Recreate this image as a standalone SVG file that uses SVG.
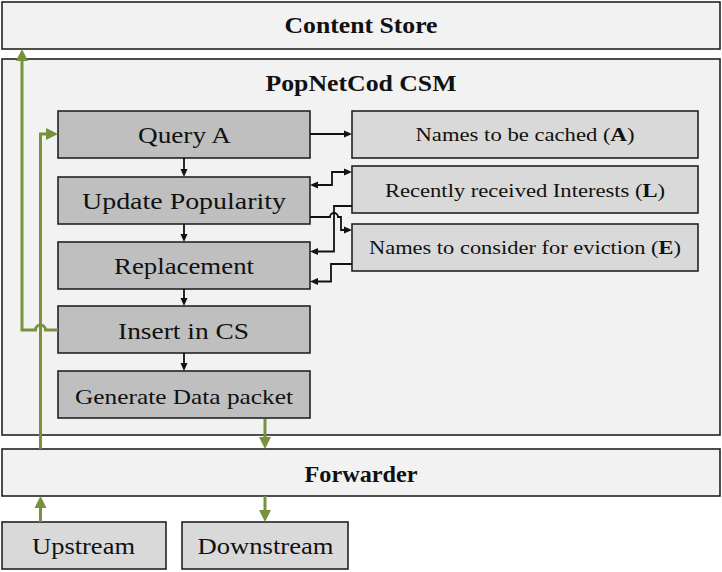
<svg xmlns="http://www.w3.org/2000/svg" width="722" height="572" viewBox="0 0 722 572">
<style>
text{font-family:"Liberation Serif","Times New Roman",serif;fill:#111;text-anchor:middle}
.big{fill:#f2f2f2;stroke:#222;stroke-width:1.6}
.step{fill:#bfbfbf;stroke:#222;stroke-width:1.6}
.data{fill:#d9d9d9;stroke:#222;stroke-width:1.6}
.t{font-size:24px;font-weight:bold}
.s{font-size:24px}
.r{font-size:19px}
.g{fill:none;stroke:#76923c;stroke-width:3}
.k{fill:none;stroke:#111;stroke-width:1.8}
</style>
<defs>
<marker id="ga" viewBox="0 0 12 12" refX="6" refY="6" markerWidth="12" markerHeight="12" markerUnits="userSpaceOnUse" orient="auto-start-reverse"><path d="M0,0 L12,6 L0,12 z" fill="#76923c"/></marker>
<marker id="ka" viewBox="0 0 8 8" refX="4" refY="4" markerWidth="8" markerHeight="8" markerUnits="userSpaceOnUse" orient="auto-start-reverse"><path d="M0,0.5 L8,4 L0,7.5 z" fill="#111"/></marker>
</defs>
<g id="content-store"><rect class="big" x="2" y="2" width="718" height="47"/><text class="t" x="361" y="33" textLength="153" lengthAdjust="spacingAndGlyphs">Content Store</text></g>
<g id="csm"><rect class="big" x="2" y="59" width="718" height="376"/><text class="t" x="361" y="90.5" textLength="191" lengthAdjust="spacingAndGlyphs">PopNetCod CSM</text></g>
<g id="forwarder"><rect class="big" x="2" y="449" width="718" height="47"/><text class="t" x="361" y="481.5" textLength="113" lengthAdjust="spacingAndGlyphs">Forwarder</text></g>
<g id="upstream"><rect class="data" x="2" y="522" width="164" height="47"/><text class="s" x="83.5" y="554" textLength="103" lengthAdjust="spacingAndGlyphs">Upstream</text></g>
<g id="downstream"><rect class="data" x="182" y="522" width="166" height="47"/><text class="s" x="265.5" y="554" textLength="136" lengthAdjust="spacingAndGlyphs">Downstream</text></g>
<g id="query-a"><rect class="step" x="58" y="111" width="252" height="47"/><text class="s" x="184.5" y="143" textLength="93" lengthAdjust="spacingAndGlyphs">Query A</text></g>
<g id="update-popularity"><rect class="step" x="58" y="177" width="252" height="47"/><text class="s" x="184" y="209" textLength="204" lengthAdjust="spacingAndGlyphs">Update Popularity</text></g>
<g id="replacement"><rect class="step" x="58" y="242" width="252" height="47"/><text class="s" x="184" y="274" textLength="140" lengthAdjust="spacingAndGlyphs">Replacement</text></g>
<g id="insert-cs"><rect class="step" x="58" y="306" width="252" height="47"/><text class="s" x="183.5" y="338.5" textLength="131" lengthAdjust="spacingAndGlyphs">Insert in CS</text></g>
<g id="generate-data"><rect class="step" x="58" y="371" width="252" height="47"/><text x="184" y="403.5" font-size="21" textLength="218" lengthAdjust="spacingAndGlyphs">Generate Data packet</text></g>
<g id="names-cached"><rect class="data" x="352" y="111" width="346" height="47"/><text class="r" x="525" y="141" textLength="219" lengthAdjust="spacingAndGlyphs">Names to be cached (<tspan font-weight="bold">A</tspan>)</text></g>
<g id="recent-interests"><rect class="data" x="352" y="166" width="346" height="47"/><text class="r" x="525" y="196.5" textLength="280" lengthAdjust="spacingAndGlyphs">Recently received Interests (<tspan font-weight="bold">L</tspan>)</text></g>
<g id="eviction"><rect class="data" x="352" y="224" width="346" height="47"/><text class="r" x="525" y="254" textLength="312" lengthAdjust="spacingAndGlyphs">Names to consider for eviction (<tspan font-weight="bold">E</tspan>)</text></g>
<g id="connectors">
<path class="k" d="M184,158 V173" marker-end="url(#ka)"/>
<path class="k" d="M184,224 V238" marker-end="url(#ka)"/>
<path class="k" d="M184,289 V302" marker-end="url(#ka)"/>
<path class="k" d="M184,353 V367" marker-end="url(#ka)"/>
<path class="k" d="M310,134 H348" marker-end="url(#ka)"/>
<path class="k" d="M314,185 H332 V172 H348" marker-start="url(#ka)" marker-end="url(#ka)"/>
<path class="k" d="M352,206 H334 V251.5 H314" marker-end="url(#ka)"/>
<path class="k" d="M310,217 H330 A4,4 0 0 1 338,217 H341 V230 H348" marker-end="url(#ka)"/>
<path class="k" d="M352,264 H331 V281.5 H314" marker-end="url(#ka)"/>
<path class="g" d="M40.5,449 V134 H52" marker-end="url(#ga)"/>
<path class="g" d="M58,330 H45.5 A5,5 0 0 0 35.5,330 H22 V55" marker-end="url(#ga)"/>
<path class="g" d="M40.5,522 V502" marker-end="url(#ga)"/>
<path class="g" d="M265,419 V443" marker-end="url(#ga)"/>
<path class="g" d="M265,496 V516" marker-end="url(#ga)"/>
</g>
</svg>
